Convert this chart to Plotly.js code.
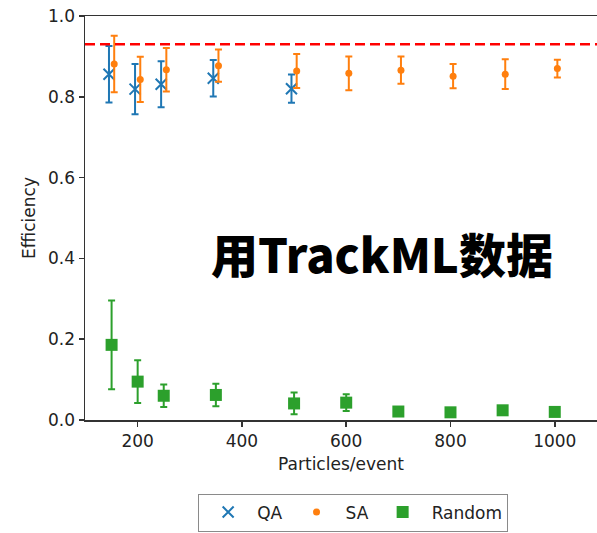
<!DOCTYPE html>
<html>
<head>
<meta charset="utf-8">
<script src="https://cdn.plot.ly/plotly-3.0.1.min.js"></script>
<style>
  html, body { margin: 0; padding: 0; background: #fff; }
  #chart { width: 597px; height: 533px; }
</style>
</head>
<body>
<div id="chart"></div>
<script>
// Particles per event for each run
const qaParticles = [150, 200, 250, 350, 500];
const particles = [150, 200, 250, 350, 500, 600, 700, 800, 900, 1000];

// Quantum annealing efficiency and its spread
const qaEff = [0.856, 0.819, 0.831, 0.846, 0.820];
const qaErr = [0.070, 0.062, 0.057, 0.045, 0.035];

// Simulated annealing efficiency and its spread
const saEff = [0.881, 0.843, 0.867, 0.877, 0.864, 0.858, 0.866, 0.851, 0.856, 0.870];
const saErr = [0.070, 0.056, 0.054, 0.040, 0.042, 0.042, 0.034, 0.030, 0.037, 0.022];

// Random assignment baseline
const rndEff = [0.186, 0.095, 0.060, 0.062, 0.041, 0.043, 0.021, 0.019, 0.024, 0.020];
const rndErr = [0.110, 0.053, 0.028, 0.028, 0.027, 0.021, 0.006, 0.006, 0.006, 0.006];

// Reference efficiency level
const referenceEff = 0.93;

const seriesNames = ['QA', 'SA', 'Random'];
const xTicks = [200, 400, 600, 800, 1000];
const yTicks = [0.0, 0.2, 0.4, 0.6, 0.8, 1.0];
const overlayText = '用TrackML数据';

const BLUE = '#1f77b4', ORANGE = '#ff7f0e', GREEN = '#2ca02c';
const AXIS = '#333333', TEXT = '#222222';
const FONT = 'DejaVu Sans, sans-serif';
const FS = 17;

// small horizontal nudge so overlapping error bars stay readable
const shift = (xs, d) => xs.map(v => v + d);

const errBar = (arr, color) => ({
  type: 'data', array: arr, visible: true,
  color: color, thickness: 2, width: 3.5
});

const traces = [
  {
    name: seriesNames[0], type: 'scatter', mode: 'markers',
    x: shift(qaParticles, -5), y: qaEff,
    error_y: errBar(qaErr, BLUE),
    marker: { symbol: 'x-thin-open', size: 11, color: BLUE, line: { color: BLUE, width: 2 } }
  },
  {
    name: seriesNames[1], type: 'scatter', mode: 'markers',
    x: shift(particles, 5), y: saEff,
    error_y: errBar(saErr, ORANGE),
    marker: { symbol: 'circle', size: 7, color: ORANGE }
  },
  {
    name: seriesNames[2], type: 'scatter', mode: 'markers',
    x: particles, y: rndEff,
    error_y: errBar(rndErr, GREEN),
    marker: { symbol: 'square', size: 12, color: GREEN }
  }
];

const layout = {
  width: 597, height: 533,
  margin: { l: 85, r: 0, t: 16, b: 113, autoexpand: false },
  paper_bgcolor: '#fff', plot_bgcolor: '#fff',
  font: { family: FONT, size: FS, color: TEXT },
  showlegend: true,
  legend: {
    orientation: 'h', x: 0.221, xanchor: 'left', y: -0.182, yanchor: 'top',
    bordercolor: '#8a8a8a', borderwidth: 1, bgcolor: '#fff',
    font: { family: FONT, size: FS, color: TEXT },
    itemwidth: 48
  },
  xaxis: {
    range: [99, 1081], tickvals: xTicks, ticktext: xTicks.map(String),
    showgrid: false, zeroline: false,
    showline: true, linecolor: AXIS, linewidth: 1.5, mirror: true,
    ticks: 'outside', ticklen: 5, tickwidth: 1.5, tickcolor: AXIS,
    tickfont: { family: FONT, size: FS, color: TEXT },
    title: { text: 'Particles/event', font: { family: FONT, size: FS, color: TEXT }, standoff: 8 }
  },
  yaxis: {
    range: [0, 1], tickvals: yTicks, ticktext: yTicks.map(v => v.toFixed(1)),
    showgrid: false, zeroline: false,
    showline: true, linecolor: AXIS, linewidth: 1.5,
    ticks: 'outside', ticklen: 5, tickwidth: 1.5, tickcolor: AXIS,
    tickfont: { family: FONT, size: FS, color: TEXT },
    title: { text: 'Efficiency', font: { family: FONT, size: FS, color: TEXT }, standoff: 8 }
  },
  shapes: [{
    type: 'line', xref: 'paper', x0: 0, x1: 1, yref: 'y', y0: referenceEff, y1: referenceEff,
    line: { color: '#ff0000', width: 2.5, dash: '10px,5px' }
  }],
  annotations: [{
    text: overlayText, xref: 'paper', yref: 'paper', x: 0.58, y: 0.415,
    xanchor: 'center', yanchor: 'middle', showarrow: false,
    font: { family: 'Noto Sans CJK SC, sans-serif', size: 47, color: '#000', weight: 900 }
  }]
};

Plotly.newPlot('chart', traces, layout, { displayModeBar: false, staticPlot: true });
</script>
</body>
</html>
